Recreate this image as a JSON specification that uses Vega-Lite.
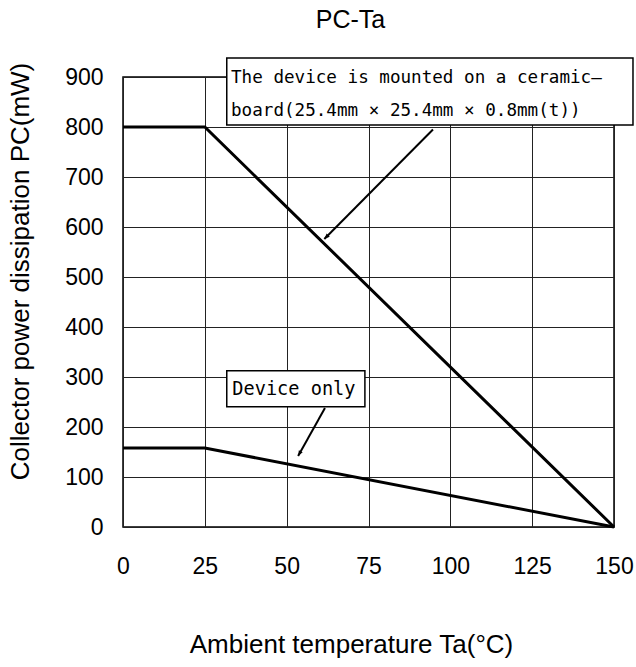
{
  "$schema": "https://vega.github.io/schema/vega-lite/v6.json",
  "width": 491,
  "height": 450,
  "autosize": {"type": "none"},
  "padding": {"left": 123, "top": 77, "right": 22, "bottom": 140},
  "background": "white",
  "title": {"text": "PC-Ta", "font": "Liberation Sans", "fontSize": 25, "fontWeight": "normal", "color": "black", "offset": 24, "dx": -18},
  "config": {
    "view": {"stroke": "black", "strokeWidth": 1.5},
    "axis": {
      "labelFont": "Liberation Sans", "labelFontSize": 23, "labelColor": "black",
      "titleFont": "Liberation Sans", "titleFontSize": 26, "titleFontWeight": "normal", "titleColor": "black",
      "grid": true, "gridColor": "#222", "gridWidth": 1, "gridOpacity": 1,
      "domain": false, "ticks": false, "labelFlush": false, "labelBound": false, "labelOverlap": false
    }
  },
  "datasets": {
    "curves": [
      {"curve": "board", "Ta": 0, "Pc": 800},
      {"curve": "board", "Ta": 25, "Pc": 800},
      {"curve": "board", "Ta": 150, "Pc": 0},
      {"curve": "device", "Ta": 0, "Pc": 158},
      {"curve": "device", "Ta": 25, "Pc": 158},
      {"curve": "device", "Ta": 150, "Pc": 0}
    ],
    "arrows": [
      {"x0": 94.7, "y0": 795, "x1": 61.5, "y1": 576, "angle": 45},
      {"x0": 61.7, "y0": 238, "x1": 53.5, "y1": 142, "angle": 29}
    ],
    "boxes": [
      {"x0": 31.7, "x1": 155.8, "y0": 804, "y1": 938},
      {"x0": 31.7, "x1": 73.9, "y0": 240.5, "y1": 312.7}
    ],
    "boardText": [
      {"x": 33.0, "y": 898, "text": "The device is mounted on a ceramic–"},
      {"x": 33.0, "y": 832, "text": "board(25.4mm × 25.4mm × 0.8mm(t))"}
    ],
    "deviceText": [
      {"x": 33.4, "y": 277, "text": "Device only"}
    ]
  },
  "layer": [
    {
      "data": {"name": "curves"},
      "mark": {"type": "line", "color": "black", "strokeWidth": 3},
      "encoding": {
        "x": {"field": "Ta", "type": "quantitative", "scale": {"domain": [0, 150], "nice": false},
              "axis": {"values": [0, 25, 50, 75, 100, 125, 150], "labelPadding": 28, "titlePadding": 53, "title": "Ambient temperature Ta(°C)", "titleX": 228}},
        "y": {"field": "Pc", "type": "quantitative", "scale": {"domain": [0, 900], "nice": false},
              "axis": {"values": [0, 100, 200, 300, 400, 500, 600, 700, 800, 900], "labelPadding": 20, "title": "Collector power dissipation PC(mW)",
                       "titleX": -103, "titleY": 194, "titleAngle": 270, "titleAlign": "center", "titleBaseline": "middle"}},
        "detail": {"field": "curve"}
      }
    },
    {
      "data": {"name": "arrows"},
      "mark": {"type": "rule", "color": "black", "strokeWidth": 2},
      "encoding": {
        "x": {"field": "x0", "type": "quantitative"},
        "y": {"field": "y0", "type": "quantitative"},
        "x2": {"field": "x1"},
        "y2": {"field": "y1"}
      }
    },
    {
      "data": {"name": "arrows"},
      "mark": {"type": "point", "shape": "M0,0L-0.4,-1L0.4,-1Z", "filled": true, "color": "black", "opacity": 1, "size": 120},
      "encoding": {
        "x": {"field": "x1", "type": "quantitative"},
        "y": {"field": "y1", "type": "quantitative"},
        "angle": {"field": "angle", "type": "quantitative", "scale": null}
      }
    },
    {
      "data": {"name": "boxes"},
      "mark": {"type": "rect", "fill": "white", "stroke": "black", "strokeWidth": 1.5},
      "encoding": {
        "x": {"field": "x0", "type": "quantitative"},
        "x2": {"field": "x1"},
        "y": {"field": "y0", "type": "quantitative"},
        "y2": {"field": "y1"}
      }
    },
    {
      "data": {"name": "boardText"},
      "mark": {"type": "text", "align": "left", "baseline": "middle", "font": "DejaVu Sans Mono", "fontSize": 17.6, "color": "black"},
      "encoding": {
        "x": {"field": "x", "type": "quantitative"},
        "y": {"field": "y", "type": "quantitative"},
        "text": {"field": "text"}
      }
    },
    {
      "data": {"name": "deviceText"},
      "mark": {"type": "text", "align": "left", "baseline": "middle", "font": "DejaVu Sans Mono", "fontSize": 18.6, "color": "black"},
      "encoding": {
        "x": {"field": "x", "type": "quantitative"},
        "y": {"field": "y", "type": "quantitative"},
        "text": {"field": "text"}
      }
    }
  ]
}
